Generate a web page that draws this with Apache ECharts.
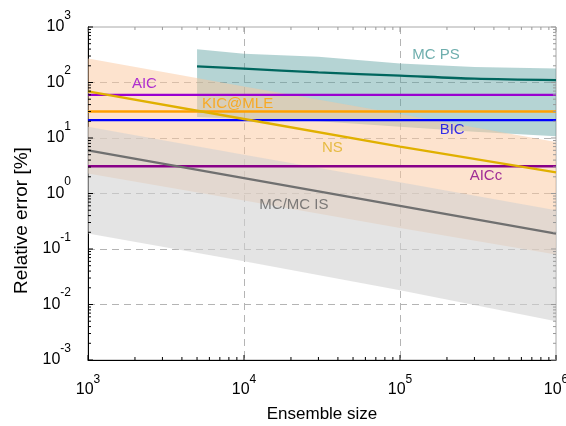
<!DOCTYPE html>
<html><head><meta charset="utf-8">
<script src="https://cdn.jsdelivr.net/npm/echarts@6/dist/echarts.min.js"></script>
<style>html,body{margin:0;padding:0;background:#fff}#c{width:566px;height:426px}</style>
</head><body><div id="c"></div>
<script>
// ---- data ----
const decadesX = [1e3, 1e4, 1e5, 1e6];
const nsValues = [69, 22, 7.0, 2.4];
const nsUpper = [270, 85, 27, 8.5];
const nsLower = [2.3, 0.75, 0.24, 0.08];
const mcValues = [6.0, 1.9, 0.6, 0.19];
const mcUpper = [16, 5.0, 1.6, 0.5];
const mcLower = [0.19, 0.06, 0.018, 0.005];
const mcpsX = [5000, 10000, 30000, 100000, 300000, 1000000];
const mcpsValues = [196, 178, 152, 133, 117, 110];
const mcpsUpper = [396, 330, 290, 220, 190, 178];
const mcpsLower = [24, 22, 20, 16, 13, 10.7];
const aicValue = 60;
const kicValue = 30;
const bicValue = 21;
const aiccValue = 3.1;
const xRange = [1e3, 1e6];
const yRange = [1e-3, 1e3];
const annotNames = ['MC PS', 'AIC', 'KIC@MLE', 'BIC', 'NS', 'AICc', 'MC/MC IS'];
const annotX = [170000, 2300, 9100, 216000, 36900, 355600, 20900];
const annotY = [316, 93, 41.3, 13.9, 6.74, 2.06, 0.618];
const annotColors = ['#4a9a98', '#9a00d0', '#ffa000', '#0000ee', '#e0b020', '#880088', '#606060'];
const mantissas = [2, 3, 4, 5, 6, 7, 8, 9];

const FONT = 'Liberation Sans, Arial, sans-serif';

function pairs(xs, ys) { return xs.map((x, i) => [x, ys[i]]); }

function bandSeries(name, xs, lo, hi, color) {
  return {
    name, type: 'custom', silent: true,
    data: xs.map((x, i) => [x, lo[i], hi[i]]),
    encode: { x: 0, y: [1, 2] },
    renderItem(params, api) {
      if (params.dataIndex !== 0) return null;
      const pts = [];
      for (let i = 0; i < xs.length; i++) pts.push(api.coord([xs[i], hi[i]]));
      for (let i = xs.length - 1; i >= 0; i--) pts.push(api.coord([xs[i], lo[i]]));
      return { type: 'polygon', shape: { points: pts, smooth: 0 }, style: { fill: color } };
    }
  };
}

function lineSeries(name, data, color, width, smooth) {
  return {
    name, type: 'line', data, showSymbol: false, symbol: 'none', silent: true,
    smooth: smooth || false,
    lineStyle: { color, width }, z: 3
  };
}

// tick values (axis decoration)
function tickVals(lo, hi) {
  const out = [];
  const e0 = Math.round(Math.log10(lo)), e1 = Math.round(Math.log10(hi));
  for (let e = e0; e <= e1; e++) {
    out.push([Math.pow(10, e), 1]);
    if (e < e1) mantissas.forEach(m => out.push([m * Math.pow(10, e), 0]));
  }
  return out;
}
const xTicks = tickVals(xRange[0], xRange[1]);
const yTicks = tickVals(yRange[0], yRange[1]);

const tickSeries = {
  type: 'custom', silent: true, z: 5,
  data: [[xRange[0], yRange[0]]],
  renderItem(params, api) {
    const children = [];
    xTicks.forEach(([v, major]) => {
      const len = major ? 5 : 3;
      const b = api.coord([v, yRange[0]]);
      const t = api.coord([v, yRange[1]]);
      children.push({ type: 'line', shape: { x1: b[0], y1: b[1], x2: b[0], y2: b[1] - len }, style: { stroke: '#000', lineWidth: 1 } });
      children.push({ type: 'line', shape: { x1: t[0], y1: t[1], x2: t[0], y2: t[1] + len }, style: { stroke: '#999', lineWidth: 1 } });
    });
    yTicks.forEach(([v, major]) => {
      const len = major ? 5 : 3;
      const l = api.coord([xRange[0], v]);
      const r = api.coord([xRange[1], v]);
      children.push({ type: 'line', shape: { x1: l[0], y1: l[1], x2: l[0] + len, y2: l[1] }, style: { stroke: '#000', lineWidth: 1 } });
      children.push({ type: 'line', shape: { x1: r[0], y1: r[1], x2: r[0] - len, y2: r[1] }, style: { stroke: '#999', lineWidth: 1 } });
    });
    return { type: 'group', children };
  }
};

const expFormatter = v => '{b|10}{s|' + Math.round(Math.log10(v)) + '}';

const chart = echarts.init(document.getElementById('c'), null, { renderer: 'canvas' });
chart.setOption({
  animation: false,
  backgroundColor: '#fff',
  grid: { left: 88, right: 10, top: 27, bottom: 66, show: true, borderColor: '#a8a8a8', borderWidth: 1, outerBoundsMode: 'none', containLabel: false },
  xAxis: {
    type: 'log', logBase: 10, min: xRange[0], max: xRange[1],
    name: 'Ensemble size', nameLocation: 'middle', nameGap: 46,
    nameTextStyle: { fontFamily: FONT, fontSize: 17, color: '#000' },
    axisLine: { show: true, lineStyle: { color: '#000', width: 1 } },
    axisTick: { show: false },
    splitLine: { show: true, showMinLine: false, showMaxLine: false, lineStyle: { color: '#b4b4b4', width: 1, type: [7, 5] } },
    axisLabel: {
      margin: 14, formatter: expFormatter, fontFamily: FONT, color: '#000', hideOverlap: false,
      rich: {
        b: { fontFamily: FONT, fontSize: 16, color: '#000', lineHeight: 24, verticalAlign: 'bottom' },
        s: { fontFamily: FONT, fontSize: 12, color: '#000', lineHeight: 12, verticalAlign: 'top' }
      }
    }
  },
  yAxis: {
    type: 'log', logBase: 10, min: yRange[0], max: yRange[1],
    name: 'Relative error [%]', nameLocation: 'middle', nameGap: 49,
    nameTextStyle: { fontFamily: FONT, fontSize: 19, color: '#000', padding: [0, 54, 0, 0] },
    axisLine: { show: true, lineStyle: { color: '#000', width: 1 } },
    axisTick: { show: false },
    splitLine: { show: true, showMinLine: false, showMaxLine: false, lineStyle: { color: '#b4b4b4', width: 1, type: [7, 5] } },
    axisLabel: {
      margin: 17, formatter: expFormatter, fontFamily: FONT, color: '#000', hideOverlap: false,
      rich: {
        b: { fontFamily: FONT, fontSize: 16, color: '#000', lineHeight: 35, verticalAlign: 'middle' },
        s: { fontFamily: FONT, fontSize: 12, color: '#000', lineHeight: 12, verticalAlign: 'top' }
      }
    }
  },
  series: [
    bandSeries('MC PS band', mcpsX, mcpsLower, mcpsUpper, 'rgba(90,160,160,0.45)'),
    bandSeries('NS band', decadesX, nsLower, nsUpper, 'rgba(251,199,157,0.5)'),
    bandSeries('MC band', decadesX, mcLower, mcUpper, 'rgba(209,209,209,0.59)'),
    lineSeries('AIC', pairs(xRange, [aicValue, aicValue]), '#9a00d0', 2.3),
    lineSeries('KIC@MLE', pairs(xRange, [kicValue, kicValue]), '#ffa000', 2.3),
    lineSeries('BIC', pairs(xRange, [bicValue, bicValue]), '#0000ff', 2.3),
    lineSeries('AICc', pairs(xRange, [aiccValue, aiccValue]), '#880088', 2.3),
    lineSeries('NS', pairs(decadesX, nsValues), '#e0b000', 2.3),
    lineSeries('MC/MC IS', pairs(decadesX, mcValues), '#707070', 2.3),
    lineSeries('MC PS', pairs(mcpsX, mcpsValues), '#00665e', 2.3, 0.3),
    {
      type: 'scatter', silent: true, symbolSize: 0, z: 4,
      data: annotNames.map((n, i) => ({ name: n, value: [annotX[i], annotY[i]], label: { color: annotColors[i] } })),
      label: { show: true, position: 'inside', formatter: p => p.name, fontFamily: FONT, fontSize: 15 }
    },
    tickSeries
  ]
});
</script>
</body></html>
